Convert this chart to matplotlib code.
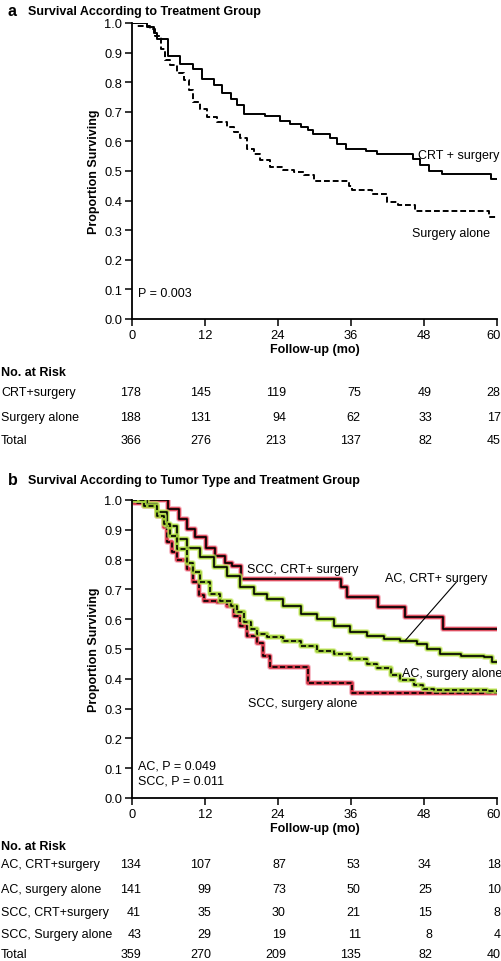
import matplotlib.pyplot as plt
import matplotlib.transforms as mtransforms

plt.rcParams['font.family'] = ['Liberation Sans', 'DejaVu Sans']

# panel a curves (months, proportion surviving)
crt_t = [0, 2.5, 3.6, 4.1, 6.0, 7.9, 10.1, 11.5, 13.4, 14.8, 16.2, 17.3, 18.4, 21.9, 24.4,
         26.0, 27.7, 29.0, 29.8, 32.6, 33.7, 35.1, 38.4, 40.2, 46.2, 47.3, 48.8, 51.0, 59.0, 60]
crt_s = [1.0, 0.985, 0.965, 0.945, 0.89, 0.86, 0.846, 0.81, 0.79, 0.763, 0.744, 0.724, 0.694, 0.686, 0.67,
         0.66, 0.65, 0.637, 0.626, 0.61, 0.59, 0.576, 0.567, 0.558, 0.54, 0.52, 0.50, 0.49, 0.474, 0.474]
surg_t = [0, 0.8, 3.0, 3.8, 4.7, 5.5, 6.3, 7.4, 8.5, 9.3, 10.1, 11.2, 12.3, 13.9, 15.6, 16.7, 17.8,
          18.9, 20.0, 21.1, 22.7, 24.9, 26.6, 28.2, 29.9, 35.6, 36.2, 39.5, 41.9, 43.8, 46.5, 58.7, 60]
surg_s = [1.0, 0.99, 0.98, 0.955, 0.913, 0.874, 0.857, 0.83, 0.806, 0.773, 0.733, 0.71, 0.682, 0.665, 0.65, 0.632, 0.61,
          0.576, 0.558, 0.536, 0.514, 0.502, 0.497, 0.486, 0.466, 0.45, 0.435, 0.423, 0.394, 0.386, 0.364, 0.346, 0.346]

# panel b curves
scc_crt_t = [0, 6.0, 7.7, 9.0, 10.4, 12.1, 13.7, 15.3, 16.4, 17.9, 34.4, 35.3, 40.4, 44.8, 51.1, 60]
scc_crt_s = [1.0, 0.97, 0.936, 0.903, 0.875, 0.84, 0.813, 0.79, 0.78, 0.735, 0.707, 0.673, 0.642, 0.608, 0.567, 0.567]
ac_crt_t = [0, 2.5, 4.1, 5.8, 7.4, 9.0, 11.2, 13.4, 15.6, 17.8, 20.0, 22.2, 24.9, 27.7, 30.4, 33.2,
            35.9, 38.6, 41.4, 44.1, 46.8, 48.5, 50.7, 54.0, 57.8, 59.2, 60]
ac_crt_s = [1.0, 0.987, 0.96, 0.914, 0.87, 0.84, 0.81, 0.774, 0.746, 0.707, 0.685, 0.668, 0.645, 0.617, 0.60, 0.578,
            0.556, 0.545, 0.534, 0.528, 0.517, 0.50, 0.483, 0.478, 0.472, 0.455, 0.455]
ac_surg_t = [0, 1.9, 4.1, 5.2, 6.3, 7.4, 9.0, 10.1, 11.2, 12.9, 14.5, 16.2, 17.3, 18.4, 19.5, 20.5, 22.2,
             24.9, 27.7, 30.4, 33.2, 35.9, 38.6, 40.3, 42.5, 44.1, 46.3, 47.9, 49.6, 58.4, 60]
ac_surg_s = [1.0, 0.98, 0.947, 0.92, 0.88, 0.836, 0.79, 0.757, 0.724, 0.685, 0.662, 0.645, 0.623, 0.59, 0.567, 0.55, 0.54,
             0.528, 0.51, 0.494, 0.483, 0.466, 0.45, 0.435, 0.413, 0.397, 0.38, 0.366, 0.363, 0.358, 0.358]
scc_surg_t = [0, 0.3, 1.9, 4.1, 5.2, 5.8, 6.6, 7.4, 9.0, 10.1, 11.0, 11.8, 14.0, 15.6, 16.7, 17.8, 18.9,
              20.5, 21.6, 22.7, 29.0, 36.2, 60]
scc_surg_s = [1.0, 0.99, 0.98, 0.947, 0.908, 0.858, 0.824, 0.80, 0.77, 0.724, 0.68, 0.662, 0.657, 0.645, 0.612, 0.578, 0.545,
              0.52, 0.478, 0.441, 0.386, 0.352, 0.352]

# numbers at risk
risk_times = [0, 12, 24, 36, 48, 60]
risk_a_labels = ['CRT+surgery', 'Surgery alone', 'Total']
risk_a = [[178, 145, 119, 75, 49, 28],
          [188, 131, 94, 62, 33, 17],
          [366, 276, 213, 137, 82, 45]]
risk_b_labels = ['AC, CRT+surgery', 'AC, surgery alone', 'SCC, CRT+surgery', 'SCC, Surgery alone', 'Total']
risk_b = [[134, 107, 87, 53, 34, 18],
          [141, 99, 73, 50, 25, 10],
          [41, 35, 30, 21, 15, 8],
          [43, 29, 19, 11, 8, 4],
          [359, 270, 209, 135, 82, 40]]

# right edge of each risk column, in months (numbers sit a little right of the ticks)
col_right = [1.5, 13.0, 25.3, 37.6, 49.3, 60.6]

W, H = 502, 962
FS = 9
fig = plt.figure(figsize=(W / 100, H / 100), dpi=100)

def fy(px):
    return 1 - px / H

def style_axes(ax):
    ax.set_xlim(0, 60)
    ax.set_ylim(0, 1.0)
    ax.set_xticks(risk_times)
    ax.set_yticks([i / 10 for i in range(11)])
    ax.set_yticklabels(['%.1f' % (i / 10) for i in range(11)])
    for s in ['top', 'right']:
        ax.spines[s].set_visible(False)
    for s in ['left', 'bottom']:
        ax.spines[s].set_linewidth(1.3)
    ax.tick_params(axis='both', labelsize=9.3, width=1.1, length=5, pad=2, direction='out')
    # keep the "60" inside the picture
    last = ax.get_xticklabels()[-1]
    last.set_transform(last.get_transform() + mtransforms.ScaledTranslation(-0.035, 0, fig.dpi_scale_trans))
    ax.set_xlabel('Follow-up (mo)', fontsize=FS, fontweight='bold', labelpad=2)
    ax.set_ylabel('Proportion Surviving', fontsize=FS, fontweight='bold', labelpad=3)
    ax.margins(0)

def risk_table(ax, labels, rows, y_head, y_rows):
    trans = mtransforms.blended_transform_factory(ax.transData, fig.transFigure)
    fig.text(0.002, fy(y_head), 'No. at Risk', fontsize=FS, fontweight='bold', va='center', ha='left')
    for lab, vals, yp in zip(labels, rows, y_rows):
        fig.text(0.002, fy(yp), lab, fontsize=FS, va='center', ha='left')
        for xr, v in zip(col_right, vals):
            ax.text(xr, fy(yp), str(v), transform=trans, fontsize=FS,
                    va='center', ha='right', clip_on=False)

# ---- panel a
axa = fig.add_axes([132 / W, fy(320), 365 / W, 296 / H])
axa.step(crt_t, crt_s, where='post', color='black', lw=1.4)
axa.step(surg_t, surg_s, where='post', color='black', lw=1.4, linestyle=(0, (3, 1.5)))
style_axes(axa)
axa.text(47.0, 0.553, 'CRT + surgery', fontsize=FS, va='center')
axa.text(46.0, 0.29, 'Surgery alone', fontsize=FS, va='center')
axa.text(1.0, 0.088, 'P = 0.003', fontsize=FS, va='center')
fig.text(8 / W, fy(12), 'a', fontsize=11.5, fontweight='bold', va='center')
fig.text(28 / W, fy(12), 'Survival According to Treatment Group', fontsize=FS, fontweight='bold', va='center')
risk_table(axa, risk_a_labels, risk_a, 373, [393, 418, 441])

# ---- panel b
red, pink = '#d42a3c', '#f08ca0'
green, lgreen = '#9acd2e', '#cbe96c'
axb = fig.add_axes([132 / W, fy(799), 365 / W, 298 / H])
for t, s, c, h, ls in [(scc_crt_t, scc_crt_s, red, pink, '-'),
                       (scc_surg_t, scc_surg_s, red, pink, (0, (3, 1.5))),
                       (ac_crt_t, ac_crt_s, green, lgreen, '-'),
                       (ac_surg_t, ac_surg_s, green, lgreen, (0, (3, 1.5)))]:
    axb.step(t, s, where='post', color=h, lw=4.2, alpha=0.6)
    axb.step(t, s, where='post', color=c, lw=2.6, alpha=0.9)
    axb.step(t, s, where='post', color='black', lw=1.2, linestyle=ls)
style_axes(axb)
axb.text(18.9, 0.768, 'SCC, CRT+ surgery', fontsize=FS, va='center')
axb.text(41.6, 0.738, 'AC, CRT+ surgery', fontsize=FS, va='center')
axb.plot([53.3, 44.9], [0.724, 0.528], color='black', lw=0.8)
axb.text(44.4, 0.419, 'AC, surgery alone', fontsize=FS, va='center')
axb.text(19.1, 0.319, 'SCC, surgery alone', fontsize=FS, va='center')
axb.text(1.0, 0.11, 'AC, P = 0.049', fontsize=FS, va='center')
axb.text(1.0, 0.06, 'SCC, P = 0.011', fontsize=FS, va='center')
fig.text(8 / W, fy(481), 'b', fontsize=11.5, fontweight='bold', va='center')
fig.text(28 / W, fy(481), 'Survival According to Tumor Type and Treatment Group', fontsize=FS, fontweight='bold', va='center')
risk_table(axb, risk_b_labels, risk_b, 847, [865, 890, 913, 935, 955])

fig.savefig('out.png', dpi=100)
